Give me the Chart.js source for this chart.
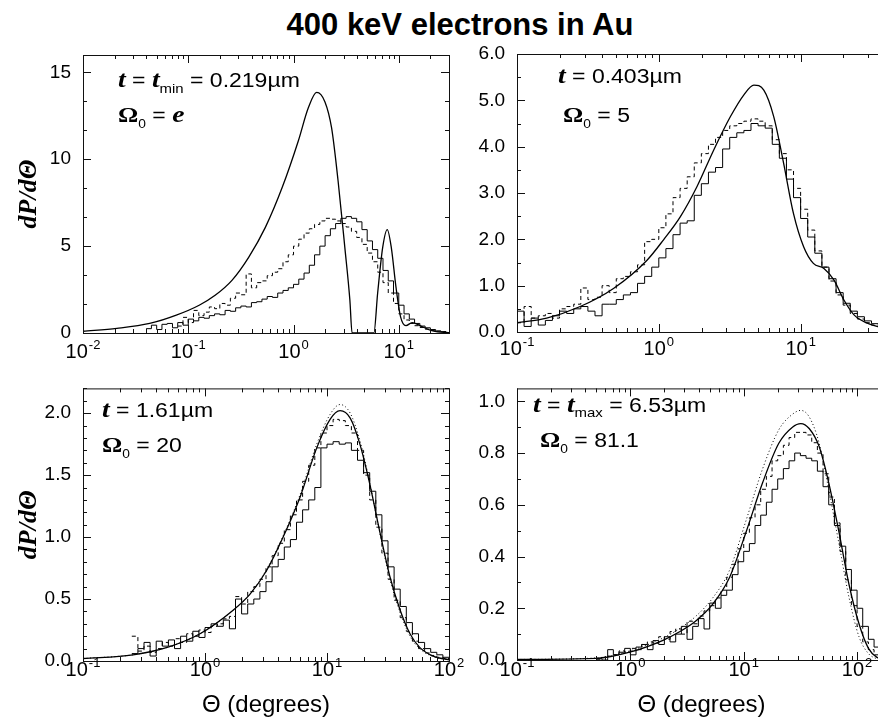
<!DOCTYPE html>
<html>
<head>
<meta charset="utf-8">
<title>400 keV electrons in Au</title>
<script src="https://cdn.jsdelivr.net/npm/chart.js@4.4.1/dist/chart.umd.min.js"></script>
<style>
  html, body { margin: 0; padding: 0; background: #fff; overflow: hidden; width: 878px; height: 720px; }
  #title { position: absolute; left: 0; top: 7px; width: 920px; text-align: center; line-height: 31px;
           font: bold 31px "Liberation Sans", Arial, sans-serif; color: #000; }
  canvas { position: absolute; }
</style>
</head>
<body>
<div id="title">400 keV electrons in Au</div>
<script>
const SANS = '"Liberation Sans", Arial, Helvetica, sans-serif';
const SERIF = '"Liberation Serif", "Times New Roman", serif';
const BIN = 0.05;   // histogram bin width, in decades of theta

// t = tmin = 0.219 um
const tlXTicks = [0.01, 0.1, 1, 10];
const tlYTicks = [0, 5, 10, 15];
const tlCurveX = [0.01, 0.021, 0.043, 0.077, 0.127, 0.18, 0.26, 0.376, 0.54, 0.78, 1.11, 1.38, 1.66, 1.99, 2.3, 2.65, 3.07, 3.43, 3.6, 5.8, 6.3, 7.04, 7.77, 8.5, 9.4, 10.4, 11.7, 13.4, 16.2, 20.2, 23.3, 30];
const tlCurveY = [0.1, 0.27, 0.55, 1.03, 1.6, 2.17, 3.03, 4.37, 6.08, 8.37, 11.05, 12.95, 13.85, 13.3, 11.8, 8.76, 4.94, 1.9, 0, 0, 2.3, 4.94, 5.95, 4.9, 2.65, 0.93, 0.42, 0.6, 0.4, 0.15, 0.07, 0.02];
const tlHistStart = -1.4;
const tlHist = [0.25, 0.45, 0.2, 0.5, 0.55, 0.3, 0.6, 0.45, 0.8, 0.7, 0.9, 0.85, 1.0, 1.1, 1.05, 1.3, 1.25, 1.45, 1.55, 1.5,
  1.75, 1.8, 1.95, 2.1, 2.05, 2.3, 2.45, 2.6, 2.8, 3.1, 3.45, 3.9, 4.5, 5.0, 5.6, 6.0, 6.3, 6.6, 6.7, 6.6,
  6.4, 5.95, 5.3, 4.8, 4.3, 3.6, 3.0, 2.3, 1.6, 1.1, 0.8, 0.55, 0.4, 0.3, 0.2, 0.12, 0.08];
const tlDashStart = -1.1;
const tlDash = [0.4, 0.9, 0.6, 1.3, 1.0, 1.2, 1.5, 1.4, 1.7, 1.6, 2.0, 2.3, 2.2, 3.4, 2.6, 2.9, 3.0, 3.3, 3.5, 3.7,
  4.1, 4.5, 5.0, 5.4, 5.75, 6.0, 6.25, 6.45, 6.6, 6.55, 6.45, 6.3, 6.1, 5.85, 5.5, 5.1, 4.6, 4.1, 3.5, 2.9,
  2.3, 1.7, 1.1, 0.75, 0.55, 0.42, 0.32, 0.22, 0.15, 0.1, 0.07];

// t = 0.403 um
const trXTicks = [0.1, 1, 10];
const trYTicks = [0, 1, 2, 3, 4, 5, 6];
const trCurveX = [0.1, 0.162, 0.279, 0.479, 0.826, 1.08, 1.42, 1.86, 2.44, 3.2, 3.98, 4.68, 5.5, 6.46, 7.59, 8.9, 10.5, 12.3, 14.6, 17.2, 20.2, 23.8, 29.5, 35.5, 40];
const trCurveY = [0.2, 0.3, 0.55, 0.94, 1.55, 1.99, 2.49, 3.14, 3.93, 4.65, 5.12, 5.33, 5.22, 4.65, 3.64, 2.56, 1.84, 1.48, 1.37, 1.12, 0.69, 0.37, 0.19, 0.11, 0.08];
const trHistStart = -1.0;
const trHist = [0.45, 0.12, 0.3, 0.15, 0.25, 0.35, 0.45, 0.4, 0.5, 0.55, 0.45, 0.35, 0.6, 0.6, 0.7, 0.8, 0.85, 1.05, 1.2, 1.4,
  1.6, 1.8, 2.1, 2.35, 2.4, 2.95, 3.2, 3.45, 3.55, 3.95, 4.2, 4.3, 4.35, 4.5, 4.45, 4.4, 4.05, 3.75, 3.3, 2.9,
  2.45, 2.05, 1.7, 1.4, 1.15, 0.85, 0.62, 0.45, 0.33, 0.24, 0.18, 0.14];
const trDashStart = -1.0;
const trDash = [0.2, 0.55, 0.3, 0.35, 0.4, 0.3, 0.5, 0.55, 0.6, 0.95, 0.7, 0.75, 1.0, 0.85, 1.15, 1.2, 1.3, 1.45, 1.95, 2.0,
  2.25, 2.55, 2.9, 3.1, 3.35, 3.65, 3.85, 4.05, 4.2, 4.35, 4.45, 4.5, 4.55, 4.6, 4.55, 4.45, 4.15, 3.85, 3.5, 3.1,
  2.65, 2.2, 1.75, 1.4, 1.1, 0.8, 0.58, 0.4, 0.28, 0.2, 0.15, 0.12];

// t = 1.61 um
const blXTicks = [0.1, 1, 10, 100];
const blYTicks = [0, 0.5, 1, 1.5, 2];
const blCurveX = [0.1, 0.257, 0.49, 0.91, 1.7, 2.34, 3.2, 4.37, 6.0, 8.24, 10.6, 12.8, 15.5, 18.6, 22.4, 27.0, 32.8, 39.8, 47.9, 57.5, 74.1, 100];
const blCurveY = [0.02, 0.05, 0.11, 0.22, 0.41, 0.54, 0.73, 1.0, 1.32, 1.72, 1.95, 2.02, 1.96, 1.75, 1.43, 1.05, 0.68, 0.41, 0.22, 0.11, 0.04, 0.01];
const blDotY = [0.02, 0.05, 0.11, 0.22, 0.41, 0.54, 0.74, 1.01, 1.34, 1.75, 1.99, 2.07, 2.0, 1.78, 1.44, 1.04, 0.66, 0.39, 0.2, 0.1, 0.035, 0.01];
const blHistStart = -0.6;
const blHist = [0.06, 0.1, 0.15, 0.04, 0.16, 0.12, 0.17, 0.1, 0.2, 0.16, 0.24, 0.19, 0.27, 0.3, 0.28, 0.33, 0.26, 0.5, 0.38, 0.46,
  0.5, 0.56, 0.64, 0.76, 0.82, 0.92, 0.98, 1.12, 1.22, 1.3, 1.4, 1.72, 1.75, 1.77, 1.75, 1.76, 1.7, 1.62, 1.52, 1.37,
  1.18, 0.97, 0.76, 0.58, 0.44, 0.31, 0.22, 0.15, 0.1, 0.07, 0.05, 0.03];
const blDashStart = -0.6;
const blDash = [0.2, 0.08, 0.12, 0.07, 0.1, 0.15, 0.12, 0.18, 0.15, 0.22, 0.2, 0.25, 0.23, 0.28, 0.3, 0.34, 0.36, 0.52, 0.46, 0.56,
  0.6, 0.66, 0.76, 0.85, 0.95, 1.06, 1.18, 1.3, 1.45, 1.58, 1.72, 1.84, 1.9, 1.95, 1.94, 1.9, 1.84, 1.7, 1.5, 1.3,
  1.08, 0.87, 0.66, 0.49, 0.35, 0.24, 0.16, 0.1, 0.065, 0.045, 0.03, 0.02];

// t = tmax = 6.53 um
const brXTicks = [0.1, 1, 10, 100];
const brYTicks = [0, 0.2, 0.4, 0.6, 0.8, 1.0];
const brCurveX = [0.1, 0.5, 0.986, 1.94, 2.69, 3.8, 5.33, 7.46, 10.5, 14.7, 20.4, 26.9, 31.9, 37.8, 46.2, 56.2, 69.2, 85.1, 104, 126, 150, 180];
const brCurveY = [0.002, 0.006, 0.03, 0.076, 0.108, 0.152, 0.216, 0.317, 0.495, 0.686, 0.838, 0.9, 0.914, 0.895, 0.826, 0.686, 0.495, 0.29, 0.14, 0.045, 0.01, 0.0];
const brDotY = [0.002, 0.008, 0.035, 0.085, 0.12, 0.17, 0.24, 0.345, 0.54, 0.74, 0.89, 0.95, 0.965, 0.94, 0.84, 0.66, 0.45, 0.24, 0.09, 0.025, 0.005, 0.0];
const brHistStart = -0.3;
const brHist = [0.005, 0.0, 0.04, 0.02, 0.03, 0.045, 0.02, 0.05, 0.06, 0.04, 0.075, 0.06, 0.09, 0.07, 0.1, 0.13, 0.08, 0.13, 0.16, 0.12,
  0.22, 0.2, 0.25, 0.27, 0.33, 0.38, 0.42, 0.45, 0.52, 0.56, 0.61, 0.66, 0.7, 0.74, 0.77, 0.8, 0.79, 0.78, 0.77, 0.73,
  0.67, 0.6, 0.52, 0.44, 0.35, 0.27, 0.2, 0.13, 0.08, 0.05, 0.03, 0.02];
const brDashStart = -0.3;
const brDash = [0.003, 0.01, 0.015, 0.02, 0.035, 0.03, 0.045, 0.04, 0.06, 0.07, 0.065, 0.09, 0.08, 0.11, 0.12, 0.1, 0.15, 0.14, 0.17, 0.19,
  0.21, 0.24, 0.27, 0.32, 0.37, 0.43, 0.49, 0.55, 0.6, 0.66, 0.71, 0.77, 0.79, 0.83, 0.86, 0.88, 0.88, 0.87, 0.84, 0.8,
  0.72, 0.63, 0.53, 0.42, 0.31, 0.21, 0.13, 0.07, 0.04, 0.02, 0.01, 0.005];

const FONTS = {
  it: 'italic bold 24px ' + SERIF,
  tx: '20px ' + SANS,
  sub: '13px ' + SANS,
  sub0: '12px ' + SANS,
  om: 'bold 22px ' + SERIF
};
const STRETCH = 1.15;

const panels = [
  { id: 'tl', x0: 0, y0: 0, w: 470, h: 365, area: { l: 83, t: 55, r: 449, b: 333 },
    xMin: 0.01, xMax: 30, yMax: 16, xTicks: tlXTicks, yTicks: tlYTicks, yMinor: 5 / 3, yDigits: 0,
    yTitle: true, xTitle: false, labelDrop: 25,
    curve: [tlCurveX, tlCurveY], dots: null, hist: [tlHistStart, tlHist], dash: [tlDashStart, tlDash],
    notes: [
      { x: 118, y: 87, parts: [['t', 'it'], [' = ', 'tx'], ['t', 'it'], ['min', 'sub', 6], [' = 0.219µm', 'tx']] },
      { x: 118, y: 122, parts: [['Ω', 'om'], ['0', 'sub0', 6], [' = ', 'tx'], ['e', 'it']] }
    ] },
  { id: 'tr', x0: 440, y0: 0, w: 460, h: 365, area: { l: 517, t: 54, r: 886, b: 332 },
    xMin: 0.1, xMax: 40, yMax: 6, xTicks: trXTicks, yTicks: trYTicks, yMinor: 0.5, yDigits: 1,
    yTitle: false, xTitle: false, labelDrop: 23,
    curve: [trCurveX, trCurveY], dots: null, hist: [trHistStart, trHist], dash: [trDashStart, trDash],
    notes: [
      { x: 558, y: 83, parts: [['t', 'it'], [' = 0.403µm', 'tx']] },
      { x: 563, y: 122, parts: [['Ω', 'om'], ['0', 'sub0', 6], [' = 5', 'tx']] }
    ] },
  { id: 'bl', x0: 0, y0: 365, w: 470, h: 355, area: { l: 83, t: 385, r: 449, b: 661 },
    xMin: 0.1, xMax: 100, yMax: 2.2, xTicks: blXTicks, yTicks: blYTicks, yMinor: 0.1, yDigits: 1,
    yTitle: true, xTitle: true, labelDrop: 15,
    curve: [blCurveX, blCurveY], dots: [blCurveX, blDotY], hist: [blHistStart, blHist], dash: [blDashStart, blDash],
    notes: [
      { x: 102, y: 417, parts: [['t', 'it'], [' = 1.61µm', 'tx']] },
      { x: 102, y: 452, parts: [['Ω', 'om'], ['0', 'sub0', 6], [' = 20', 'tx']] }
    ] },
  { id: 'br', x0: 440, y0: 365, w: 460, h: 355, area: { l: 517, t: 384, r: 886, b: 660 },
    xMin: 0.1, xMax: 180, yMax: 1.05, xTicks: brXTicks, yTicks: brYTicks, yMinor: 0.1, yDigits: 1,
    yTitle: false, xTitle: true, labelDrop: 16,
    curve: [brCurveX, brCurveY], dots: [brCurveX, brDotY], hist: [brHistStart, brHist], dash: [brDashStart, brDash],
    notes: [
      { x: 533, y: 412, parts: [['t', 'it'], [' = ', 'tx'], ['t', 'it'], ['max', 'sub', 5], [' = 6.53µm', 'tx']] },
      { x: 540, y: 447, parts: [['Ω', 'om'], ['0', 'sub0', 6], [' = 81.1', 'tx']] }
    ] }
];

function curve(xs, ys) {
  return xs.map((x, i) => ({ x: x, y: ys[i] }));
}

// histogram bins are equal in log(theta); each value holds until the next edge
function steps(start, vals) {
  const pts = vals.map((v, i) => ({ x: Math.pow(10, start + i * BIN), y: v }));
  pts.push({ x: Math.pow(10, start + vals.length * BIN), y: vals[vals.length - 1] });
  return pts;
}

// box with inward ticks on all sides, superscript decade labels and the panel notes
function framePlugin(p) {
  return {
    id: 'frame',
    afterDatasetsDraw(chart) {
      const ctx = chart.ctx, a = chart.chartArea, xs = chart.scales.x, ys = chart.scales.y;
      ctx.save();
      ctx.strokeStyle = '#111';
      ctx.lineWidth = 1;
      ctx.strokeRect(a.left + 0.5, a.top + 0.5, a.right - a.left, a.bottom - a.top);
      ctx.beginPath();
      const lo = Math.floor(Math.log10(p.xMin)), hi = Math.ceil(Math.log10(p.xMax));
      for (let d = lo; d <= hi; d++) {
        for (let k = 1; k <= 9; k++) {
          const v = k * Math.pow(10, d);
          if (v < p.xMin * 0.999 || v > p.xMax * 1.001) continue;
          const px = Math.round(xs.getPixelForValue(v)) + 0.5;
          const len = k === 1 ? 8 : 4;
          ctx.moveTo(px, a.bottom); ctx.lineTo(px, a.bottom - len);
          ctx.moveTo(px, a.top); ctx.lineTo(px, a.top + len);
        }
      }
      const n = Math.round(p.yMax / p.yMinor + 0.01);
      for (let i = 0; i <= n; i++) {
        const v = i * p.yMinor;
        if (v > p.yMax + 1e-9) break;
        const major = p.yTicks.some(t => Math.abs(t - v) < 1e-6);
        const py = Math.round(ys.getPixelForValue(v)) + 0.5;
        const len = major ? 8 : 4;
        ctx.moveTo(a.left, py); ctx.lineTo(a.left + len, py);
        ctx.moveTo(a.right, py); ctx.lineTo(a.right - len, py);
      }
      ctx.stroke();
      ctx.restore();
    },
    afterDraw(chart) {
      const ctx = chart.ctx, a = chart.chartArea, xs = chart.scales.x;
      ctx.save();
      ctx.fillStyle = '#000';
      ctx.textAlign = 'left';
      ctx.textBaseline = 'alphabetic';
      xs.ticks.forEach(t => {
        const e = String(Math.round(Math.log10(t.value)));
        const px = xs.getPixelForValue(t.value);
        ctx.font = '20px ' + SANS;
        const w1 = ctx.measureText('10').width;
        ctx.font = '13px ' + SANS;
        const w2 = ctx.measureText(e).width;
        const s = px - (w1 + w2 + 1) / 2;
        ctx.font = '20px ' + SANS;
        ctx.fillText('10', s, a.bottom + p.labelDrop);
        ctx.font = '13px ' + SANS;
        ctx.fillText(e, s + w1 + 1, a.bottom + p.labelDrop - 9);
      });
      p.notes.forEach(line => {
        ctx.save();
        ctx.translate(line.x - p.x0, line.y - p.y0);
        ctx.scale(STRETCH, 1);
        let x = 0;
        line.parts.forEach(([text, f, dy]) => {
          ctx.font = FONTS[f];
          ctx.fillText(text, x, dy || 0);
          x += ctx.measureText(text).width;
        });
        ctx.restore();
      });
      ctx.restore();
    }
  };
}

panels.forEach(p => {
  const canvas = document.createElement('canvas');
  canvas.width = p.w;
  canvas.height = p.h;
  canvas.style.left = p.x0 + 'px';
  canvas.style.top = p.y0 + 'px';
  document.body.appendChild(canvas);

  const datasets = [
    { data: curve(p.curve[0], p.curve[1]), borderWidth: 1.3, cubicInterpolationMode: 'monotone' },
    { data: steps(p.hist[0], p.hist[1]), borderWidth: 1, stepped: 'before' },
    { data: steps(p.dash[0], p.dash[1]), borderWidth: 1, stepped: 'before', borderDash: [4, 3] }
  ];
  if (p.dots) {
    datasets.push({ data: curve(p.dots[0], p.dots[1]), borderWidth: 1, borderDash: [1, 2.5], cubicInterpolationMode: 'monotone' });
  }
  datasets.forEach(d => { d.borderColor = '#000'; d.pointRadius = 0; d.fill = false; });

  new Chart(canvas, {
    type: 'line',
    data: { datasets: datasets },
    options: {
      responsive: false,
      animation: false,
      devicePixelRatio: 1,
      events: [],
      layout: {
        autoPadding: false,
        padding: { left: 0, top: p.area.t - p.y0, right: p.x0 + p.w - p.area.r, bottom: 0 }
      },
      plugins: { legend: { display: false }, tooltip: { enabled: false } },
      scales: {
        x: {
          type: 'logarithmic',
          min: p.xMin,
          max: p.xMax,
          afterBuildTicks: s => { s.ticks = p.xTicks.map(v => ({ value: v, major: true })); },
          afterFit: s => { s.height = p.y0 + p.h - p.area.b; },
          grid: { display: false, drawTicks: false },
          border: { display: false },
          ticks: { display: false },
          title: { display: p.xTitle, text: 'Θ (degrees)', color: '#000', padding: { top: 0, bottom: 0 },
                   font: { family: SANS, size: 24 } }
        },
        y: {
          min: 0,
          max: p.yMax,
          afterBuildTicks: s => { s.ticks = p.yTicks.map(v => ({ value: v })); },
          afterFit: s => { s.width = p.area.l - p.x0; },
          grid: { display: false, drawTicks: false },
          border: { display: false },
          ticks: { color: '#000', padding: 12, font: { family: SANS, size: 19 },
                   callback: v => p.yDigits ? v.toFixed(p.yDigits) : String(v) },
          title: { display: p.yTitle, text: 'dP/dΘ', color: '#000', padding: { top: 14, bottom: 0 },
                   font: { family: SERIF, size: 26, style: 'italic', weight: 'bold' } }
        }
      }
    },
    plugins: [framePlugin(p)]
  });
});
</script>
</body>
</html>
